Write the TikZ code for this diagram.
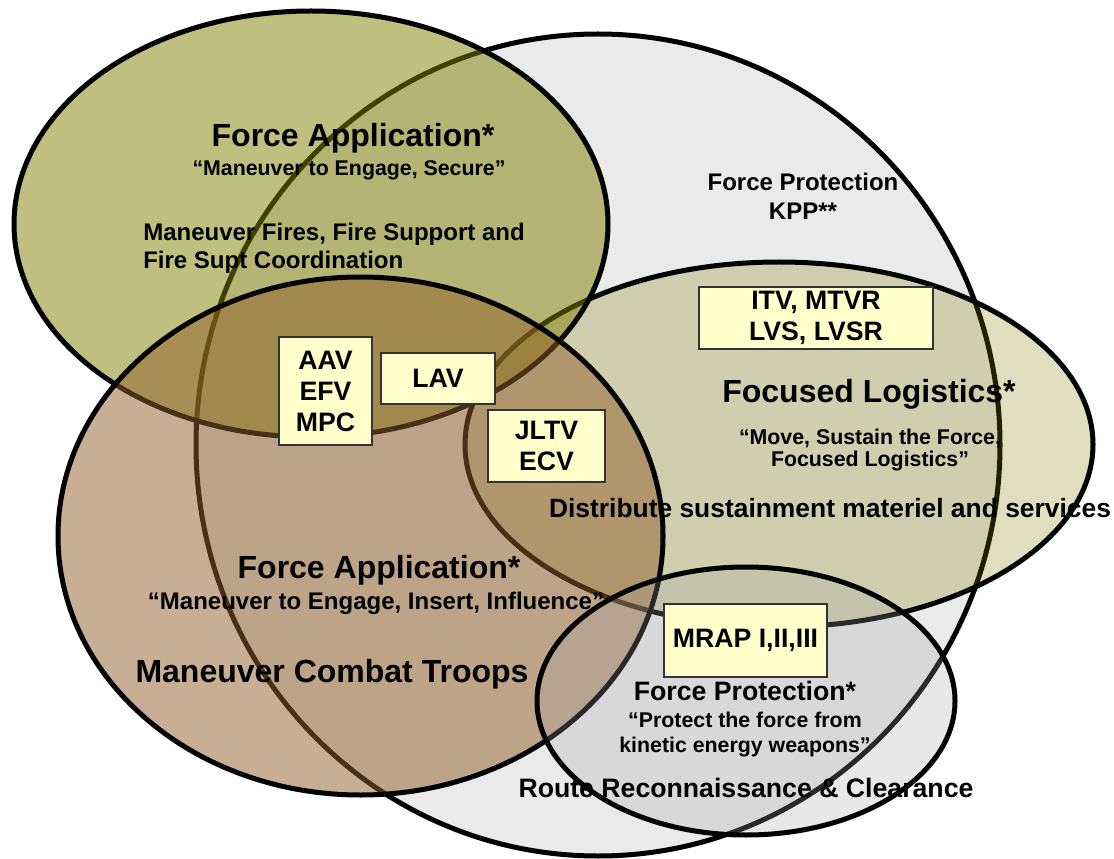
\documentclass[tikz,border=0pt]{standalone}
\usepackage{fontspec}
\setmainfont{Liberation Sans}
\definecolor{greyfill}{RGB}{234,234,234}
\definecolor{olivefill}{RGB}{128,128,0}
\definecolor{brownfill}{RGB}{145,95,42}
\definecolor{mrapfill}{RGB}{165,165,165}
\definecolor{boxyellow}{RGB}{255,255,204}
\definecolor{boxedge}{RGB}{51,51,51}
\newcommand{\fz}[2]{\fontsize{#1}{#2}\selectfont\bfseries}
\begin{document}
\begin{tikzpicture}[x=0.75pt,y=-0.75pt,
  venn/.style={draw=black,line width=3.75pt},
  vbox/.style={draw=boxedge,fill=boxyellow,line width=1.1pt,inner sep=0pt,align=center,font=\fz{20pt}{23.25pt}},
  lbl/.style={inner sep=0pt,anchor=base},
  lblw/.style={inner sep=0pt,anchor=base west}]
\useasboundingbox (0,0) rectangle (1114,859);
\fill[white] (0,0) rectangle (1114,859);
% ellipses
\draw[venn,fill=greyfill] (598,445) ellipse [x radius=402,y radius=411];
\draw[venn,fill=olivefill,fill opacity=0.25] (779,444.5) ellipse [x radius=314,y radius=182.5];
\draw[venn,fill=olivefill,fill opacity=0.5] (311,224) ellipse [x radius=297,y radius=213];
\draw[venn,fill=brownfill,fill opacity=0.5] (360.5,536) ellipse [x radius=302.5,y radius=259];
\draw[venn,fill=mrapfill,fill opacity=0.25] (746,701) ellipse [x radius=209,y radius=134];
% boxes
\node[vbox,minimum width=69.75pt,minimum height=81pt] (aav) at (325.5,391) {AAV\\EFV\\MPC};
\node[vbox,minimum width=85.5pt,minimum height=38.25pt] (lav) at (438,378.5) {LAV};
\node[vbox,minimum width=87.75pt,minimum height=54pt] (jltv) at (546.5,446) {JLTV\\ECV};
\node[vbox,minimum width=175.5pt,minimum height=46.5pt] (itv) at (816,318) {ITV, MTVR\\LVS, LVSR};
\node[vbox,minimum width=122.25pt,minimum height=54.75pt] (mrap) at (745.5,640.5) {MRAP I,II,III};
% texts
\node[lbl,font=\fz{24pt}{28pt}] (faTop) at (353,146.5) {Force Application*};
\node[lbl,font=\fz{16pt}{19pt}] (faTopQ) at (349,175.6) {“Maneuver to Engage, Secure”};
\node[lblw,font=\fz{18pt}{21pt}] (mf1) at (143,240.6) {Maneuver Fires, Fire Support and};
\node[lblw,font=\fz{18pt}{21pt}] (mf2) at (143,268.6) {Fire Supt Coordination};
\node[lbl,font=\fz{18pt}{21pt}] (fpk1) at (803,190.6) {Force Protection};
\node[lbl,font=\fz{18pt}{21pt}] (fpk2) at (803,219.6) {KPP**};
\node[lbl,font=\fz{24pt}{28pt}] (fl) at (869,402.5) {Focused Logistics*};
\node[lbl,font=\fz{16pt}{19pt}] (flq1) at (870,444) {“Move, Sustain the Force,};
\node[lbl,font=\fz{16pt}{19pt}] (flq2) at (870,466) {Focused Logistics”};
\node[lbl,font=\fz{19.8pt}{23pt}] (dist) at (830,517.5) {Distribute sustainment materiel and services};
\node[lbl,font=\fz{24pt}{28pt}] (faMid) at (379,578.5) {Force Application*};
\node[lbl,font=\fz{18pt}{21pt}] (faMidQ) at (376,609.6) {“Maneuver to Engage, Insert, Influence”};
\node[lbl,font=\fz{24pt}{28pt}] (mct) at (332,682.5) {Maneuver Combat Troops};
\node[lbl,font=\fz{20pt}{23pt}] (fpS) at (745,700.5) {Force Protection*};
\node[lbl,font=\fz{16pt}{19pt}] (fpq1) at (745,727.7) {“Protect the force from};
\node[lbl,font=\fz{16pt}{19pt}] (fpq2) at (745,752.7) {kinetic energy weapons”};
\node[lbl,font=\fz{20pt}{23pt}] (route) at (746,797.5) {Route Reconnaissance \& Clearance};
\end{tikzpicture}
\end{document}
